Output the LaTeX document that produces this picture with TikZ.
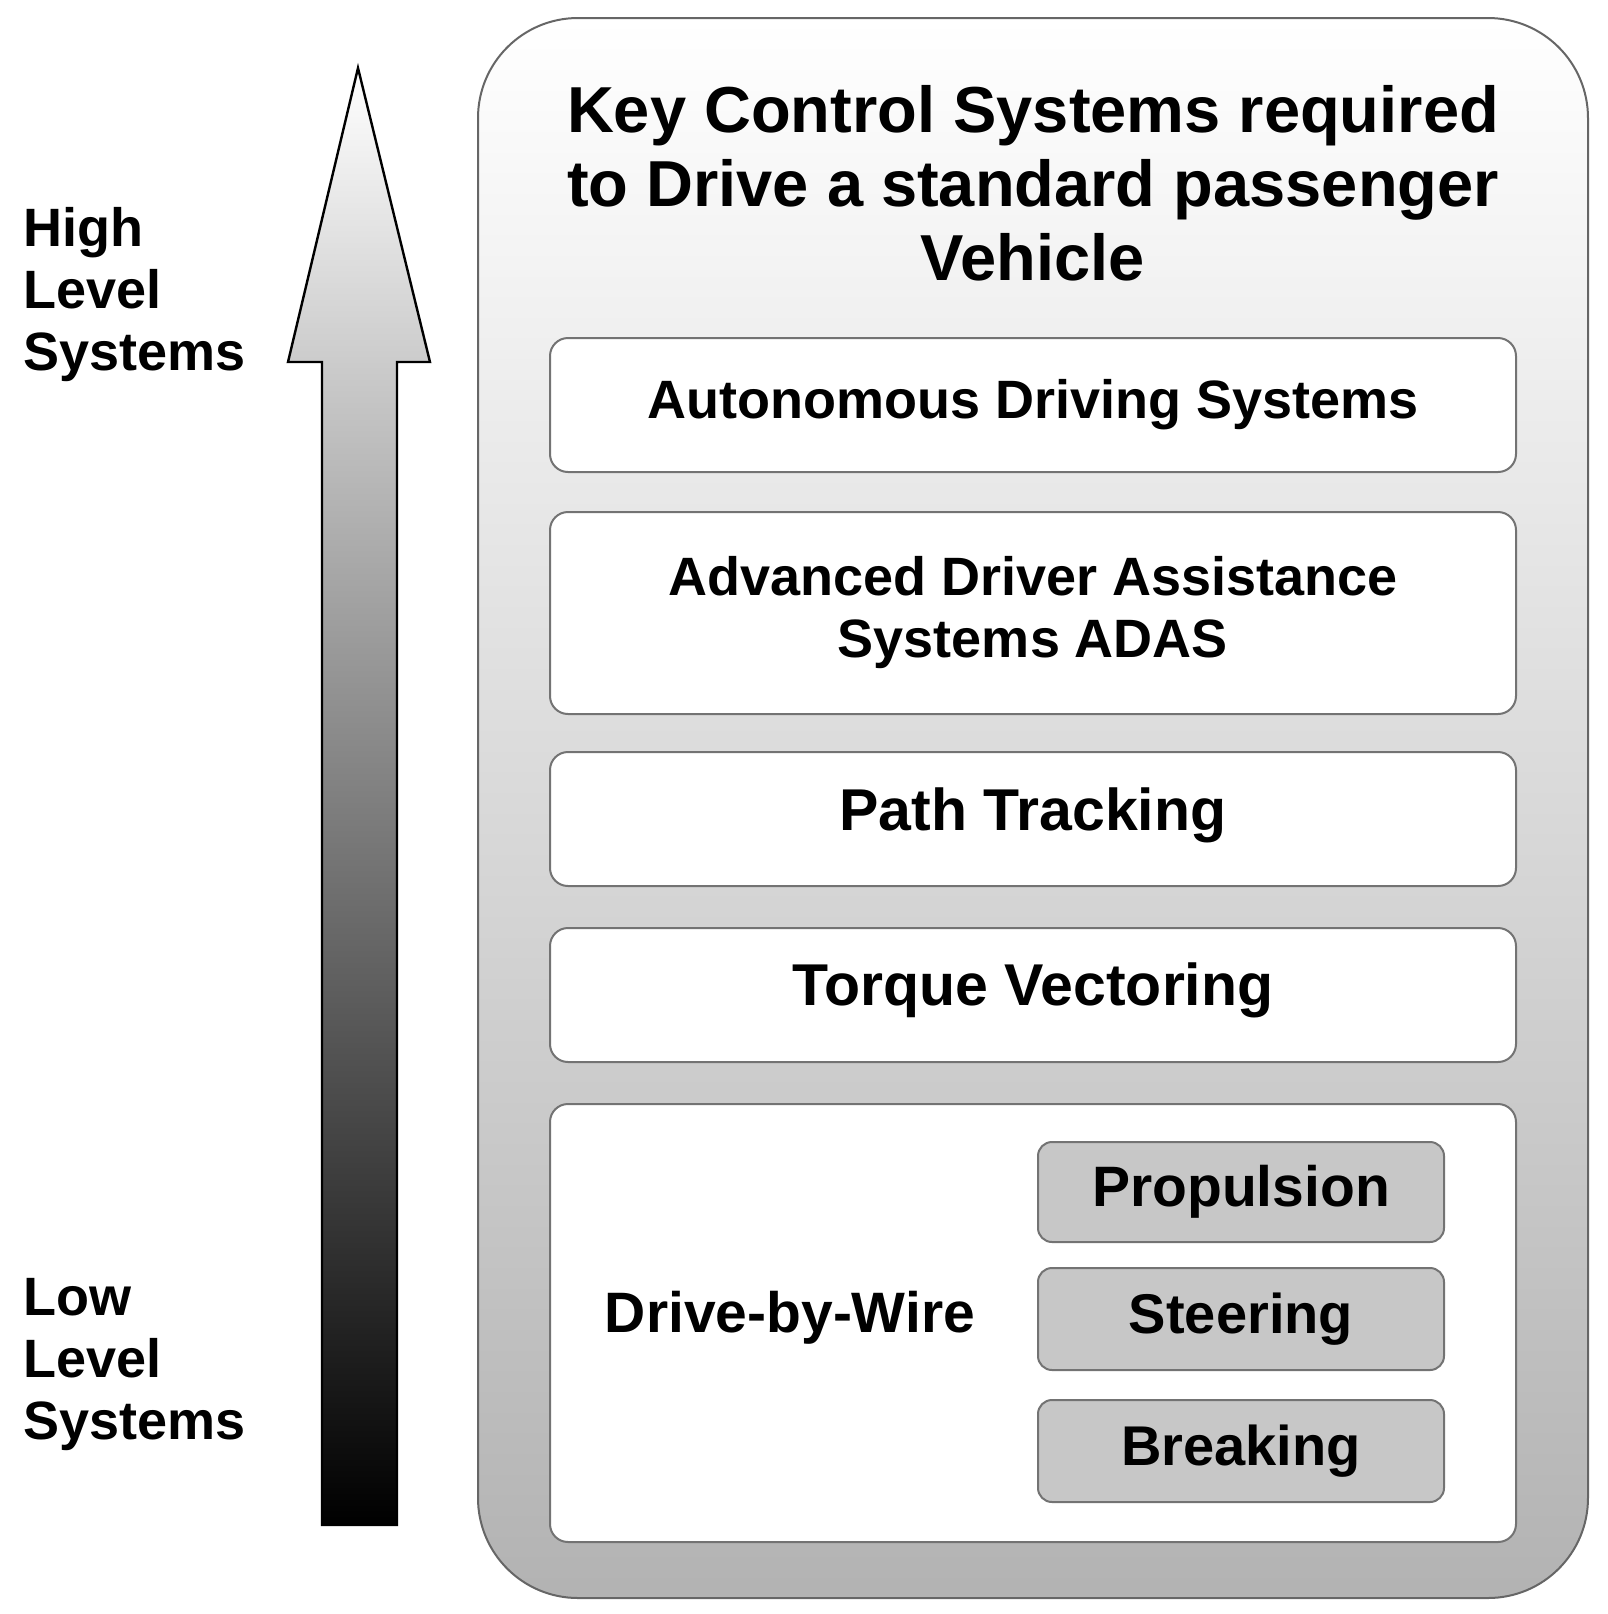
\documentclass[tikz,border=0pt]{standalone}
\usepackage{fontspec}
\setmainfont{Liberation Sans}
\begin{document}
\begin{tikzpicture}[x=0.5pt,y=-0.5pt,
  inner/.style={draw=black!55,line width=1pt,rounded corners=9pt,fill=white},
  sub/.style={draw=black!55,line width=1pt,rounded corners=7pt,fill=black!22},
  lbl/.style={font=\bfseries\fontsize{27}{31}\selectfont,align=center},
  side/.style={font=\bfseries\fontsize{27}{31}\selectfont,align=left,anchor=west}]
\useasboundingbox (0,0) rectangle (1608,1614);
\path[draw=black!60,line width=1pt,rounded corners=50pt,top color=white,bottom color=black!30] (478,18) rectangle (1588,1598);
\path[draw=black,line width=1.2pt,top color=white,bottom color=black] (322,1525) -- (322,362) -- (288,362) -- (358,68) -- (430,362) -- (397,362) -- (397,1525) -- cycle;
\node[font=\bfseries\fontsize{32.5}{37}\selectfont,align=center] (title) at (1033,183) {Key Control Systems required\\to Drive a standard passenger\\Vehicle};
\node[side] (high) at (16,295) {High\\Level\\Systems};
\node[side] (low) at (16,1365) {Low\\Level\\Systems};
\draw[inner] (550,338) rectangle (1516,472);
\node[lbl] (ads) at (1033,405) {Autonomous Driving Systems};
\draw[inner] (550,512) rectangle (1516,714);
\node[lbl] (adas) at (1033,613) {Advanced Driver Assistance\\Systems ADAS};
\draw[inner] (550,752) rectangle (1516,886);
\node[lbl,font=\bfseries\fontsize{29.5}{32}\selectfont] (pt) at (1033,815) {Path Tracking};
\draw[inner] (550,928) rectangle (1516,1062);
\node[lbl,font=\bfseries\fontsize{29.5}{32}\selectfont] (tv) at (1033,990) {Torque Vectoring};
\draw[inner] (550,1104) rectangle (1516,1542);
\node[lbl,font=\bfseries\fontsize{28.5}{32}\selectfont] (dbw) at (790,1318) {Drive-by-Wire};
\draw[sub] (1038,1142) rectangle (1444,1242);
\node[lbl,font=\bfseries\fontsize{28.5}{32}\selectfont] (prop) at (1241,1192) {Propulsion};
\draw[sub] (1038,1268) rectangle (1444,1370);
\node[lbl,font=\bfseries\fontsize{28}{32}\selectfont] (steer) at (1241,1319) {Steering};
\draw[sub] (1038,1400) rectangle (1444,1502);
\node[lbl,font=\bfseries\fontsize{28}{32}\selectfont] (brk) at (1241,1451) {Breaking};
\end{tikzpicture}
\end{document}
